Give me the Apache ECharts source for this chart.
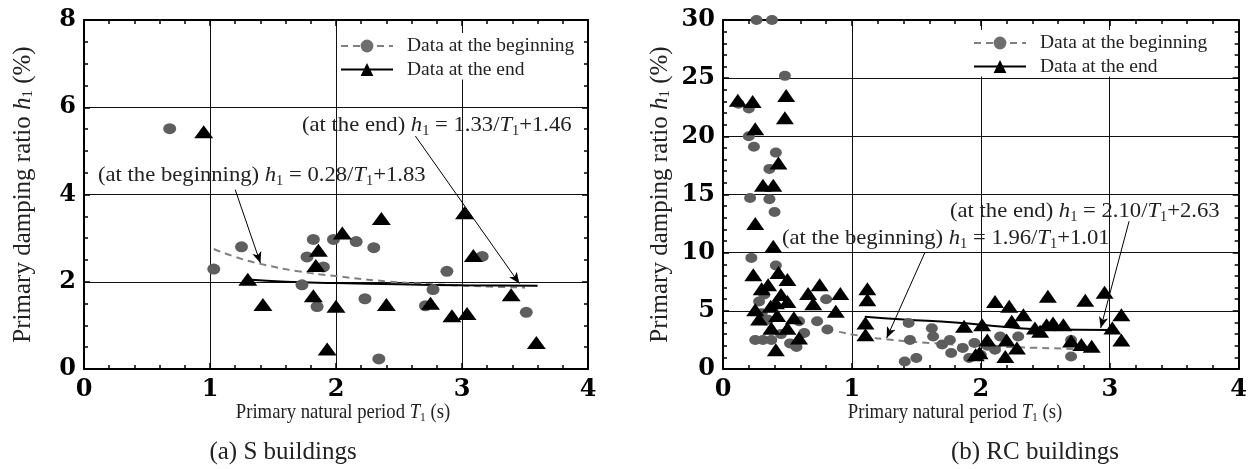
<!DOCTYPE html>
<html>
<head>
<meta charset="utf-8">
<script src="https://cdn.jsdelivr.net/npm/echarts@6/dist/echarts.min.js"></script>
<style>
  html, body { margin: 0; padding: 0; background: #fff; }
  #chart { width: 1250px; height: 469px; }
</style>
</head>
<body>
<div id="chart"></div>
<script>
// (a) S buildings
const sBeginT = [0.68, 1.03, 1.25, 1.73, 1.77, 1.82, 1.85, 1.90, 1.98, 2.16, 2.23, 2.30, 2.34, 2.71, 2.77, 2.88, 3.16, 3.51];
const sBeginH = [5.51, 2.29, 2.80, 1.93, 2.57, 2.97, 1.43, 2.34, 2.97, 2.92, 1.61, 2.78, 0.23, 1.45, 1.82, 2.24, 2.58, 1.30];
const sEndT = [0.95, 1.30, 1.42, 1.82, 1.84, 1.86, 1.93, 2.00, 2.05, 2.36, 2.40, 2.75, 2.92, 3.02, 3.04, 3.09, 3.39, 3.59];
const sEndH = [5.44, 2.06, 1.48, 1.68, 2.37, 2.72, 0.46, 1.44, 3.12, 3.45, 1.48, 1.51, 1.22, 3.58, 1.27, 2.60, 1.70, 0.61];
// fitted curves as drawn
const sBeginFitT = [1.03, 1.2, 1.4, 1.7, 2.0, 2.4, 2.8, 3.2, 3.5];
const sBeginFitH = [2.75, 2.57, 2.41, 2.24, 2.13, 2.01, 1.94, 1.89, 1.87];
const sEndFitT = [1.30, 1.6, 2.0, 2.5, 3.0, 3.6];
const sEndFitH = [2.05, 2.00, 1.97, 1.94, 1.92, 1.91];

// (b) RC buildings
const rcBeginT = [0.26, 0.38, 0.48, 0.12, 0.20, 0.20, 0.24, 0.41, 0.36, 0.21, 0.36, 0.40, 0.22, 0.41, 0.32, 0.80,
  0.35, 0.73, 0.59, 0.63, 0.81, 0.31, 0.375, 0.57, 0.28, 0.30, 0.45, 0.52, 0.25, 1.44, 1.45, 1.41, 1.50, 1.62,
  1.63, 1.70, 1.76, 1.77, 1.86, 1.91, 1.95, 2.00, 2.05, 2.11, 2.15, 2.29, 2.70, 2.70];
const rcBeginH = [30.0, 30.0, 25.2, 22.8, 22.4, 20.0, 19.1, 18.6, 17.2, 14.7, 14.6, 13.5, 9.55, 8.9, 6.4, 6.0,
  4.24, 4.1, 4.1, 3.1, 3.4, 2.5, 2.5, 1.9, 5.8, 4.8, 3.0, 2.2, 2.5, 3.96, 2.5, 0.65, 0.95, 3.5,
  2.8, 2.1, 2.5, 1.38, 1.8, 0.95, 2.24, 1.2, 2.0, 1.66, 2.8, 2.8, 2.5, 1.08];
const rcEndT = [0.115, 0.23, 0.49, 0.48, 0.25, 0.43, 0.31, 0.39, 0.25, 0.39, 0.235, 0.43, 0.50, 0.35, 0.75, 0.66,
  0.91, 1.12, 1.12, 0.70, 0.875, 0.25, 0.41, 0.50, 0.45, 0.30, 0.37, 0.28, 0.42, 0.55, 1.105, 1.105, 1.87, 2.01,
  2.11, 0.375, 0.50, 0.59, 0.41, 1.96, 2.22, 2.52, 2.81, 2.96, 3.09, 2.33, 2.24, 2.42, 2.51, 2.56, 2.64, 2.05,
  2.20, 2.28, 2.19, 2.46, 2.70, 2.78, 2.86, 3.02, 3.09, 1.99];
const rcEndH = [23.1, 23.0, 23.5, 21.6, 20.65, 17.7, 15.8, 15.8, 12.5, 10.55, 8.1, 8.3, 7.7, 7.25, 7.25, 6.5,
  6.5, 6.9, 5.95, 5.6, 4.96, 5.1, 5.7, 5.8, 6.4, 6.9, 5.4, 4.3, 4.6, 4.4, 3.96, 2.95, 3.67, 3.81,
  5.8, 3.5, 3.5, 2.67, 1.66, 1.23, 5.4, 6.25, 5.9, 6.6, 4.67, 4.67, 4.1, 3.53, 3.8, 3.96, 3.8, 2.5,
  2.5, 1.8, 1.08, 3.24, 2.4, 2.1, 1.95, 3.53, 2.5, 1.4];
const rcBeginFitT = [0.9, 1.1, 1.3, 1.6, 2.0, 2.4, 2.75];
const rcBeginFitH = [3.19, 2.79, 2.52, 2.24, 1.99, 1.83, 1.72];
const rcEndFitT = [1.1, 1.4, 1.8, 2.2, 2.5, 3.0];
const rcEndFitH = [4.5, 4.25, 4.0, 3.6, 3.4, 3.36];

const seriesNames = ['Data at the beginning', 'Data at the end'];

const FONT = 'Liberation Serif';
const TICK_FONT = 'DejaVu Serif';
const zip = (a, b) => a.map((v, i) => [v, b[i]]);

const chart = echarts.init(document.getElementById('chart'));

function xAxes(grid) {
  const base = {
    gridIndex: grid, type: 'value', min: 0, max: 4, interval: 1,
    axisLine: { show: true, onZero: false, lineStyle: { color: '#000', width: 2 } },
    axisTick: { show: true, inside: true, length: 6, lineStyle: { color: '#000', width: 1.5 } },
    minorTick: { show: true, splitNumber: 5, length: 4, lineStyle: { color: '#000', width: 1.5 } }
  };
  return [
    { ...base, position: 'bottom',
      splitLine: { show: true, lineStyle: { color: '#111', width: 1 } },
      axisLabel: { margin: 9, color: '#000', fontFamily: TICK_FONT, fontWeight: 'bold', fontSize: 24 } },
    { ...base, position: 'top', splitLine: { show: false }, axisLabel: { show: false } }
  ];
}

function yAxes(grid, max, interval, minor, gap) {
  const base = {
    gridIndex: grid, type: 'value', min: 0, max, interval,
    axisLine: { show: true, onZero: false, lineStyle: { color: '#000', width: 2 } },
    axisTick: { show: true, inside: true, length: 6, lineStyle: { color: '#000', width: 1.5 } },
    minorTick: { show: true, splitNumber: minor, length: 4, lineStyle: { color: '#000', width: 1.5 } }
  };
  return [
    { ...base, position: 'left',
      name: 'Primary damping ratio {i|h}{s|1} (%)', nameLocation: 'middle', nameGap: gap,
      nameTextStyle: {
        fontFamily: FONT, fontSize: 25, color: '#222',
        rich: { i: { fontFamily: FONT, fontSize: 25, fontStyle: 'italic', color: '#222' },
                s: { fontFamily: FONT, fontSize: 15, color: '#222', verticalAlign: 'bottom' } }
      },
      splitLine: { show: true, lineStyle: { color: '#111', width: 1 } },
      axisLabel: { margin: 8, color: '#000', fontFamily: TICK_FONT, fontWeight: 'bold', fontSize: 24 } },
    { ...base, position: 'right', splitLine: { show: false }, axisLabel: { show: false } }
  ];
}

function fitLine(name, xi, yi, pts, dashed) {
  return {
    name, type: 'line', xAxisIndex: xi, yAxisIndex: yi, data: pts,
    smooth: true, showSymbol: false, symbol: dashed ? 'circle' : 'triangle',
    lineStyle: dashed ? { color: '#808080', width: 2, type: [7, 5] } : { color: '#000', width: 2 },
    itemStyle: { color: dashed ? '#6e6e6e' : '#000' },
    silent: true, z: 3
  };
}

function dots(name, xi, yi, pts, tri, size, arrows) {
  return {
    name, type: 'scatter', xAxisIndex: xi, yAxisIndex: yi, data: pts,
    symbol: tri ? 'triangle' : 'circle', symbolSize: size, clip: false,
    itemStyle: { color: tri ? '#000' : '#5e5e5e', opacity: 1 },
    z: tri ? 5 : 4,
    markLine: arrows ? {
      silent: true, symbol: ['none', 'arrow'], symbolSize: [7, 11],
      label: { show: false },
      lineStyle: { color: '#000', width: 1, type: 'solid' },
      data: arrows
    } : undefined
  };
}

const eqRich = {
  i: { fontFamily: FONT, fontSize: 22, fontStyle: 'italic', fill: '#222', lineHeight: 26 },
  s: { fontFamily: FONT, fontSize: 14, fill: '#222', verticalAlign: 'bottom', lineHeight: 14 }
};
function eqText(x, y, str) {
  return { type: 'text', x, y, scaleX: 1.03, z: 10,
    style: { text: str, fill: '#222', fontFamily: FONT, fontSize: 22, lineHeight: 26,
             verticalAlign: 'middle', rich: eqRich } };
}
const nameRich = {
  i: { fontFamily: FONT, fontSize: 21, fontStyle: 'italic', fill: '#222', lineHeight: 24 },
  s: { fontFamily: FONT, fontSize: 13, fill: '#222', verticalAlign: 'bottom', lineHeight: 13 }
};
function plainText(x, y, str, size, sx) {
  return { type: 'text', x, y, scaleX: sx, z: 10,
    style: { text: str, fill: '#222', fontFamily: FONT, fontSize: size, lineHeight: 24,
             align: 'center', verticalAlign: 'middle', rich: nameRich } };
}

const legendBase = {
  orient: 'vertical', itemWidth: 52, itemHeight: 16, itemGap: 3.5,
  backgroundColor: '#fff', padding: [3, 4, 0, 3], selectedMode: false,
  textStyle: { fontFamily: FONT, fontSize: 19.5, color: '#222', padding: [0, 0, 0, 9] },
  data: seriesNames
};

chart.setOption({
  animation: false,
  backgroundColor: '#fff',
  grid: [
    { left: 84, right: 662, top: 20, bottom: 100 },
    { left: 723, right: 6, top: 20, bottom: 100 }
  ],
  legend: [
    { ...legendBase, left: 337, top: 33 },
    { ...legendBase, left: 970, top: 30 }
  ],
  xAxis: [...xAxes(0), ...xAxes(1)],
  yAxis: [...yAxes(0, 8, 2, 4, 48), ...yAxes(1, 30, 5, 5, 50)],
  series: [
    fitLine(seriesNames[0], 0, 0, zip(sBeginFitT, sBeginFitH), true),
    fitLine(seriesNames[1], 0, 0, zip(sEndFitT, sEndFitH), false),
    dots(seriesNames[0], 0, 0, zip(sBeginT, sBeginH), false, [13, 11], [
      [{ coord: [1.20, 4.11] }, { coord: [1.40, 2.43] }],
      [{ coord: [2.63, 5.34] }, { coord: [3.455, 1.96] }]
    ]),
    dots(seriesNames[1], 0, 0, zip(sEndT, sEndH), true, [19, 13]),
    fitLine(seriesNames[0], 2, 2, zip(rcBeginFitT, rcBeginFitH), true),
    fitLine(seriesNames[1], 2, 2, zip(rcEndFitT, rcEndFitH), false),
    dots(seriesNames[0], 2, 2, zip(rcBeginT, rcBeginH), false, [12, 10], [
      [{ coord: [1.565, 9.98] }, { coord: [1.27, 2.67] }],
      [{ coord: [3.15, 12.7] }, { coord: [2.93, 3.53] }]
    ]),
    dots(seriesNames[1], 2, 2, zip(rcEndT, rcEndH), true, [18, 13])
  ],
  graphic: [
    eqText(98, 175, '(at the beginning) {i|h}{s|1} = 0.28/{i|T}{s|1}+1.83'),
    eqText(302, 125, '(at the end) {i|h}{s|1} = 1.33/{i|T}{s|1}+1.46'),
    eqText(950, 211, '(at the end) {i|h}{s|1} = 2.10/{i|T}{s|1}+2.63'),
    eqText(782, 238, '(at the beginning) {i|h}{s|1} = 1.96/{i|T}{s|1}+1.01'),
    plainText(343, 412, 'Primary natural period {i|T}{s|1} (s)', 21, 0.89),
    plainText(955, 412, 'Primary natural period {i|T}{s|1} (s)', 21, 0.89),
    plainText(283, 452, '(a) S buildings', 25, 1.0),
    plainText(1035, 452, '(b) RC buildings', 25, 1.0)
  ]
});
</script>
</body>
</html>
